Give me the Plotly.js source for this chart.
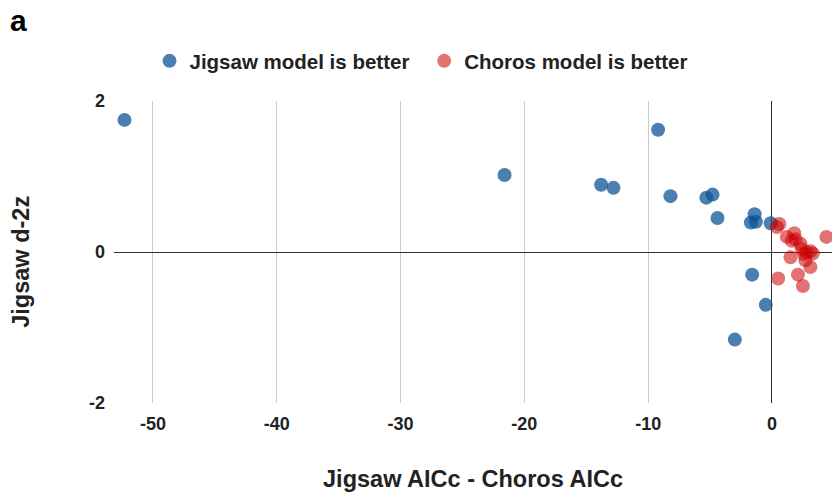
<!DOCTYPE html>
<html>
<head>
<meta charset="utf-8">
<script src="https://cdn.plot.ly/plotly-3.0.1.min.js"></script>
<style>html,body{margin:0;padding:0;background:#fff;}#chart{width:832px;height:497px;}</style>
</head>
<body>
<div id="chart"></div>
<script>
// Jigsaw model is better (blue)
const jigsawX = [-52.3, -21.6, -13.8, -12.8, -9.2, -8.2, -5.3, -4.8, -4.4, -1.4, -1.7, -1.3, -0.1, -1.6, -0.5, -3.0];
const jigsawY = [1.75, 1.02, 0.89, 0.85, 1.62, 0.74, 0.72, 0.76, 0.45, 0.50, 0.39, 0.40, 0.38, -0.30, -0.70, -1.16];
// Choros model is better (red)
const chorosX = [0.6, 0.4, 1.2, 1.8, 1.9, 1.6, 2.3, 2.4, 2.8, 3.3, 3.1, 2.6, 2.7, 3.1, 1.5, 4.4, 2.1, 2.5, 0.5];
const chorosY = [0.37, 0.33, 0.20, 0.25, 0.17, 0.15, 0.11, 0.04, 0.00, -0.02, 0.01, -0.03, -0.11, -0.20, -0.07, 0.20, -0.30, -0.45, -0.35];
const xTicks = [-50, -40, -30, -20, -10, 0];
const yTicks = [-2, 0, 2];

const font = 'Liberation Sans, Arial, sans-serif';
const traces = [
  {x: jigsawX, y: jigsawY, type: 'scatter', mode: 'markers', name: '<b>Jigsaw model is better</b>&nbsp;&#8201;',
   marker: {color: 'rgb(14,84,149)', opacity: 0.75, size: 14}, cliponaxis: false},
  {x: chorosX, y: chorosY, type: 'scatter', mode: 'markers', name: '<b>Choros model is better</b>',
   marker: {color: 'rgb(204,0,0)', opacity: 0.55, size: 14}, cliponaxis: false}
];
const layout = {
  width: 832, height: 497,
  margin: {l: 114, r: 0, t: 101, b: 94},
  paper_bgcolor: '#fff', plot_bgcolor: '#fff',
  font: {family: font, color: '#222'},
  title: {text: '<b>a</b>', x: 10/832, xanchor: 'left', xref: 'container', y: 1 - 20/497, yanchor: 'middle',
          font: {size: 30, color: '#000', family: 'Liberation Sans Narrow, Liberation Sans, Arial, sans-serif'}},
  showlegend: true,
  legend: {orientation: 'h', xref: 'container', yref: 'container', x: 0.506, xanchor: 'center', y: 1 - 61/497, yanchor: 'middle',
           font: {size: 20.5, color: '#222', family: font}, itemsizing: 'trace', itemwidth: 30, tracegroupgap: 0},
  xaxis: {range: [-53.15, 4.85], tickvals: xTicks, ticktext: xTicks.map(v => '<b>' + v + '</b>'),
          showgrid: true, gridcolor: '#cccccc', gridwidth: 1,
          zeroline: true, zerolinecolor: '#333', zerolinewidth: 1, showline: false, ticks: '',
          ticklabelstandoff: 8,
          tickfont: {size: 18, color: '#222', family: font},
          title: {text: '<b>Jigsaw AICc - Choros AICc</b>', font: {size: 23.5, color: '#222', family: font}, standoff: 37}},
  yaxis: {range: [-2, 2], tickvals: yTicks, ticktext: yTicks.map(v => '<b>' + v + '</b>'),
          showgrid: false, zeroline: true, zerolinecolor: '#333', zerolinewidth: 1, showline: false, ticks: '',
          ticklabelstandoff: 8,
          tickfont: {size: 18, color: '#222', family: font},
          title: {text: '<b>Jigsaw d-2z</b>&nbsp;&nbsp;&nbsp;', font: {size: 23.5, color: '#222', family: font}, standoff: 52}}
};
Plotly.newPlot('chart', traces, layout, {displayModeBar: false, staticPlot: true});
</script>
</body>
</html>
